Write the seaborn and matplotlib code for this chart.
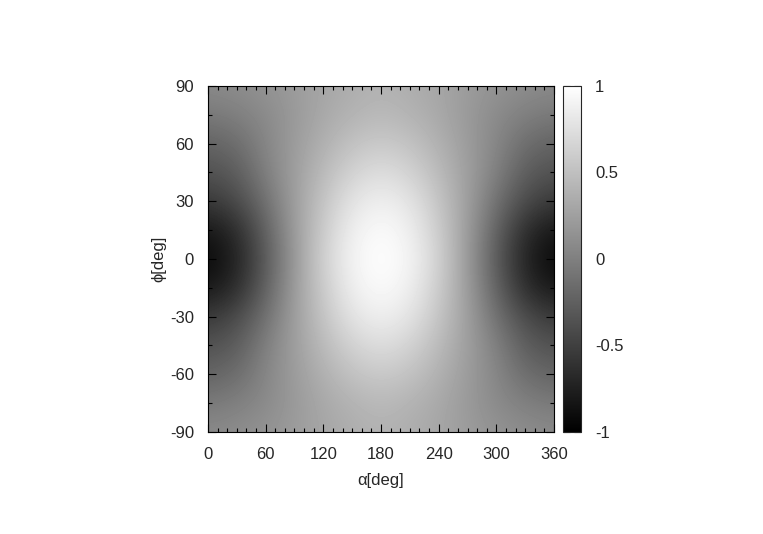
import numpy as np
import pandas as pd

import matplotlib
matplotlib.use('Agg')
import matplotlib.pyplot as plt
import seaborn as sns
from matplotlib.ticker import MultipleLocator

# grid: alpha every 30 deg, phi every 15 deg
alpha_deg = [0, 30, 60, 90, 120, 150, 180, 210, 240, 270, 300, 330, 360]
phi_deg = [-90, -75, -60, -45, -30, -15, 0, 15, 30, 45, 60, 75, 90]

row_p90 = [0.08, 0.10, 0.15, 0.22, 0.30, 0.36, 0.40, 0.36, 0.30, 0.22, 0.15, 0.10, 0.08]
row_p75 = [-0.05, 0.00, 0.08, 0.20, 0.32, 0.40, 0.45, 0.40, 0.32, 0.20, 0.08, 0.00, -0.05]
row_p60 = [-0.22, -0.15, 0.05, 0.22, 0.38, 0.52, 0.58, 0.52, 0.38, 0.22, 0.05, -0.15, -0.22]
row_p45 = [-0.36, -0.28, 0.00, 0.24, 0.46, 0.65, 0.74, 0.65, 0.46, 0.24, 0.00, -0.28, -0.36]
row_p30 = [-0.55, -0.42, -0.12, 0.24, 0.54, 0.79, 0.88, 0.79, 0.54, 0.24, -0.12, -0.42, -0.55]
row_p15 = [-0.82, -0.66, -0.24, 0.22, 0.60, 0.88, 0.97, 0.88, 0.60, 0.22, -0.24, -0.66, -0.82]
row_p00 = [-0.94, -0.74, -0.30, 0.20, 0.64, 0.92, 1.00, 0.92, 0.64, 0.20, -0.30, -0.74, -0.94]

rows = [row_p90, row_p75, row_p60, row_p45, row_p30, row_p15, row_p00,
        row_p15, row_p30, row_p45, row_p60, row_p75, row_p90]

cbar_ticks = [-1, -0.5, 0, 0.5, 1]
cbar_labels = ['-1', '-0.5', '0', '0.5', '1']


def main():
  sns.set_theme(style='ticks')
  plt.rcParams['font.family'] = ['Liberation Sans', 'DejaVu Sans']
  plt.rcParams['font.size'] = 12
  plt.rcParams['axes.unicode_minus'] = False

  df = pd.DataFrame(rows, index=phi_deg, columns=alpha_deg)

  fig = plt.figure(figsize=(7.63, 5.34), dpi=100)
  ax = fig.add_axes([0.2726, 0.191, 0.4535, 0.648])
  cax = fig.add_axes([0.738, 0.191, 0.0236, 0.648])

  da = alpha_deg[1] - alpha_deg[0]
  dp = phi_deg[1] - phi_deg[0]
  im = ax.imshow(
    df.values[::-1], cmap='gray', vmin=-1, vmax=1, aspect='auto',
    origin='lower', interpolation='bicubic',
    extent=[alpha_deg[0] - da / 2, alpha_deg[-1] + da / 2,
            phi_deg[0] - dp / 2, phi_deg[-1] + dp / 2],
  )
  ax.set_xlim(0, 360)
  ax.set_ylim(-90, 90)

  ax.xaxis.set_major_locator(MultipleLocator(60))
  ax.xaxis.set_minor_locator(MultipleLocator(10))
  ax.yaxis.set_major_locator(MultipleLocator(30))
  ax.yaxis.set_minor_locator(MultipleLocator(15))
  ax.tick_params(which='both', direction='in', top=True, right=True,
                 color='black', labelsize=12, width=0.8)
  ax.tick_params(which='major', length=6)
  ax.tick_params(which='minor', length=3)
  ax.tick_params(axis='x', which='major', pad=11)
  ax.tick_params(axis='y', which='major', pad=10)
  for s in ax.spines.values():
    s.set_linewidth(0.8)
    s.set_color('black')

  ax.set_xlabel('α[deg]', fontsize=12)
  ax.set_ylabel('ϕ[deg]', fontsize=12)
  ax.xaxis.set_label_coords(0.5, -0.118)
  ax.yaxis.set_label_coords(-0.12, 0.5)

  cb = fig.colorbar(im, cax=cax)
  cb.set_ticks(cbar_ticks)
  cb.set_ticklabels(cbar_labels)
  cax.tick_params(direction='in', left=True, right=True, length=5,
                  width=0.8, labelsize=12, pad=10)
  cb.outline.set_linewidth(0.8)

  fig.savefig('out.png', dpi=100, facecolor='white')


if __name__ == '__main__':
  main()
